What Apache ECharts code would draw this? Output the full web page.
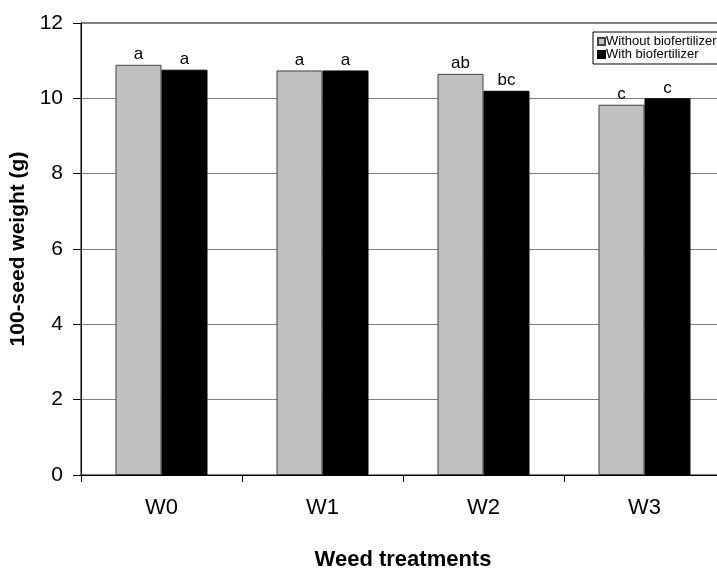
<!DOCTYPE html>
<html>
<head>
<meta charset="utf-8">
<script src="https://cdn.jsdelivr.net/npm/echarts@6/dist/echarts.min.js"></script>
<style>
  html, body { margin: 0; padding: 0; background: #fff; overflow: hidden; }
  #chart { width: 740px; height: 569px; }
</style>
</head>
<body>
<div id="chart"></div>
<script>
// Weed treatments on the category axis
const categories = ['W0', 'W1', 'W2', 'W3'];
// 100-seed weight (g)
const withoutBio = [10.89, 10.74, 10.65, 9.83];
const withBio = [10.76, 10.74, 10.20, 10.00];
// Mean separation letters
const lettersWithout = ['a', 'a', 'ab', 'c'];
const lettersWith = ['a', 'a', 'bc', 'c'];
const yTicks = [0, 2, 4, 6, 8, 10, 12];

const FONT = 'Liberation Sans, Arial, sans-serif';

const chart = echarts.init(document.getElementById('chart'), null, { renderer: 'canvas' });

function letterLabel(letters) {
  return {
    show: true,
    position: 'top',
    distance: 2,
    fontFamily: FONT,
    fontSize: 17,
    color: '#000',
    formatter: p => letters[p.dataIndex]
  };
}

chart.setOption({
  animation: false,
  backgroundColor: '#fff',
  grid: {
    left: 81,
    top: 23,
    width: 644,
    height: 452,
    containLabel: false,
    outerBoundsMode: 'none',
    show: true,
    borderColor: '#000',
    borderWidth: 1,
    backgroundColor: 'transparent'
  },
  legend: {
    orient: 'vertical',
    left: 593,
    top: 32,
    padding: [3, 6, 3, 4],
    itemGap: 0,
    itemWidth: 7,
    itemHeight: 7,
    borderColor: '#000',
    borderWidth: 1,
    borderRadius: 0,
    backgroundColor: '#fff',
    icon: 'rect',
    textStyle: { fontFamily: FONT, fontSize: 13, lineHeight: 12, color: '#000', padding: [0, 0, 0, -4] },
    data: ['Without biofertilizer', 'With biofertilizer']
  },
  xAxis: {
    type: 'category',
    data: categories,
    name: 'Weed treatments',
    nameLocation: 'middle',
    nameGap: 74,
    nameTextStyle: { fontFamily: FONT, fontSize: 22, fontWeight: 'bold', color: '#000' },
    axisLine: { lineStyle: { color: '#000', width: 1 } },
    axisTick: { show: true, length: 7, lineStyle: { color: '#000' } },
    axisLabel: { fontFamily: FONT, fontSize: 22, color: '#000', margin: 22 }
  },
  yAxis: {
    type: 'value',
    min: yTicks[0],
    max: yTicks[yTicks.length - 1],
    interval: 2,
    name: '100-seed weight (g)',
    nameLocation: 'middle',
    nameGap: 49,
    nameTextStyle: { fontFamily: FONT, fontSize: 21, fontWeight: 'bold', color: '#000' },
    axisLine: { show: true, lineStyle: { color: '#000', width: 1 } },
    axisTick: { show: true, length: 8, lineStyle: { color: '#000' } },
    axisLabel: { fontFamily: FONT, fontSize: 21, color: '#000', margin: 18 },
    splitLine: { show: true, lineStyle: { color: '#808080', width: 1 } }
  },
  series: [
    {
      name: 'Without biofertilizer',
      type: 'bar',
      data: withoutBio,
      barWidth: 46,
      barGap: '0%',
      itemStyle: { color: '#c0c0c0', borderColor: '#404040', borderWidth: 1 },
      label: letterLabel(lettersWithout)
    },
    {
      name: 'With biofertilizer',
      type: 'bar',
      data: withBio,
      barWidth: 46,
      barGap: '0%',
      itemStyle: { color: '#000', borderColor: '#000', borderWidth: 1 },
      label: letterLabel(lettersWith)
    }
  ]
});
</script>
</body>
</html>
